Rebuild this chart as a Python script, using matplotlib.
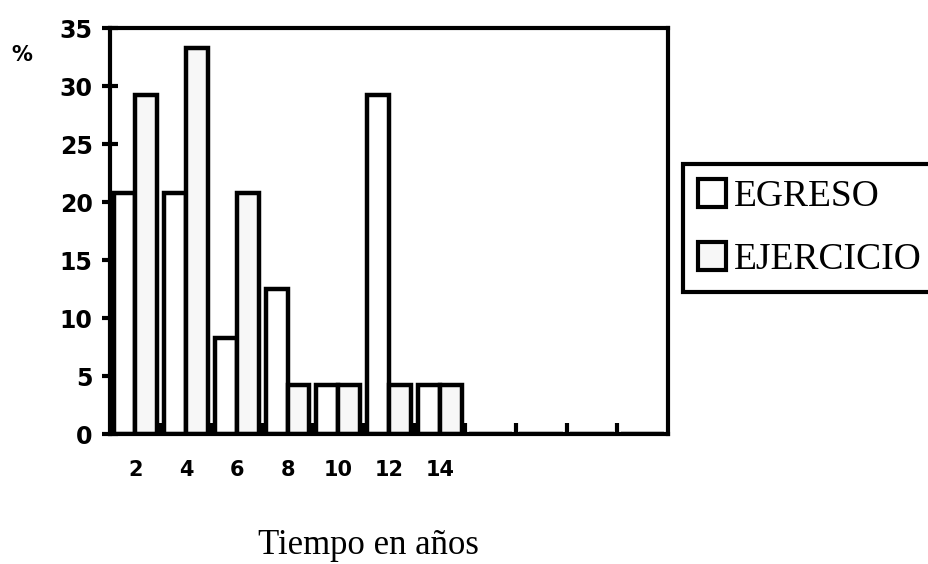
import matplotlib
matplotlib.use("Agg")
import matplotlib.pyplot as plt
import numpy as np

# years (categories); the last four have no data and no label
years = ["2", "4", "6", "8", "10", "12", "14", "", "", "", ""]
egreso = [20.8, 20.8, 8.3, 12.5, 4.2, 29.2, 4.2, 0, 0, 0, 0]
ejercicio = [29.2, 33.3, 20.8, 4.2, 4.2, 4.2, 4.2, 0, 0, 0, 0]

num_font = ["DejaVu Sans"]
serif_font = ["Liberation Serif", "DejaVu Serif"]

fig = plt.figure(figsize=(9.29, 5.64), dpi=100)
ax = fig.add_axes([110 / 929, 1 - 434 / 564, 558 / 929, 406 / 564])

x = np.arange(len(years))
w = 0.43
lw = 3.2
ax.bar(x - w / 2, egreso, w, color="white", edgecolor="black", linewidth=lw,
       label="EGRESO", zorder=2)
ax.bar(x + w / 2, ejercicio, w, color="#f7f7f7", edgecolor="black", linewidth=lw,
       label="EJERCICIO", zorder=2)

ax.set_xlim(-0.5, len(years) - 0.5)
ax.set_ylim(0, 35)
for s in ax.spines.values():
    s.set_linewidth(3)

ax.set_yticks(range(0, 36, 5))
ax.tick_params(axis="y", direction="inout", length=11, width=3, pad=7,
               labelsize=17)
ax.set_xticks(x)
ax.set_xticklabels(years)
ax.tick_params(axis="x", length=0, pad=19, labelsize=15)
ax.set_xticks(x[1:] - 0.5, minor=True)
ax.tick_params(axis="x", which="minor", direction="in", length=8, width=3)
for lab in ax.get_xticklabels() + ax.get_yticklabels():
    lab.set_family(num_font)
    lab.set_fontweight("bold")

fig.text(22 / 929, 1 - 55 / 564, "%", family=num_font, fontweight="bold",
         fontsize=15, ha="center", va="center")
fig.text(368 / 929, 1 - 546 / 564, "Tiempo en años", family=serif_font,
         fontsize=25, ha="center", va="center")

leg = fig.legend(loc="center left", bbox_to_anchor=(683 / 929, 1 - 228 / 564),
                 prop={"family": serif_font, "size": 27}, frameon=True,
                 framealpha=1, fancybox=False, edgecolor="black",
                 handlelength=0.75, handleheight=0.75, handletextpad=0.2,
                 labelspacing=0.75, borderpad=0.4, borderaxespad=0)
leg.get_frame().set_linewidth(3)
for h in leg.legend_handles:
    h.set_linewidth(3)

fig.savefig("out.png", dpi=100)
